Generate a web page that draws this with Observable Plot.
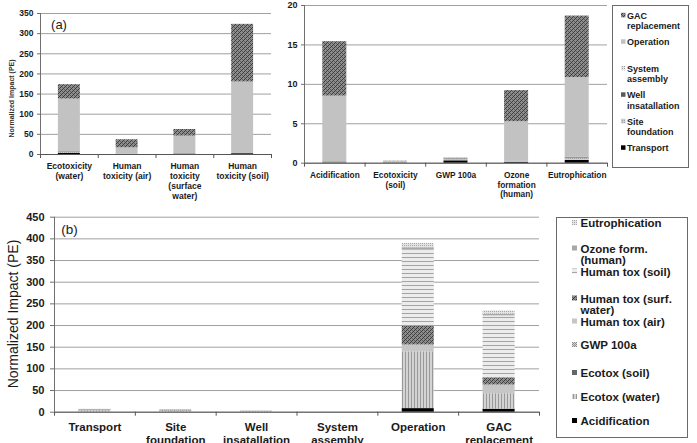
<!DOCTYPE html>
<html>
<head>
<meta charset="utf-8">
<script src="https://cdn.jsdelivr.net/npm/d3@7"></script>
<script src="https://cdn.jsdelivr.net/npm/@observablehq/plot@0.6"></script>
<style>
  html, body { margin: 0; padding: 0; background: #fff; }
  #figure { position: relative; width: 697px; height: 443px; overflow: hidden; background: #fff; }
  #figure > svg { position: absolute; margin: 0; }
</style>
</head>
<body>
<svg width="0" height="0" style="position:absolute">
  <defs>
    <pattern id="pGac" width="4" height="4" patternUnits="userSpaceOnUse">
      <rect width="4" height="4" fill="#8e8e8e"/>
      <path d="M0 3h1v1H0zM1 2h1v1H1zM2 1h1v1H2zM3 0h1v1H3z" fill="#3a3a3a"/>
      <path d="M0 1h1v1H0zM2 3h1v1H2z" fill="#5e5e5e"/>
    </pattern>
    <pattern id="pVert" width="3" height="3" patternUnits="userSpaceOnUse">
      <rect width="3" height="3" fill="#d3d3d3"/>
      <rect width="1" height="3" fill="#999"/>
    </pattern>
    <pattern id="pHoriz" width="4" height="4" patternUnits="userSpaceOnUse">
      <rect width="4" height="4" fill="#ececec"/>
      <rect width="4" height="1" fill="#a4a4a4"/>
    </pattern>
    <pattern id="pDots" width="2" height="2" patternUnits="userSpaceOnUse">
      <rect width="2" height="2" fill="#e4e4e4"/>
      <rect width="1" height="1" fill="#a6a6a6"/>
    </pattern>
    <pattern id="pGwp" width="2" height="2" patternUnits="userSpaceOnUse">
      <rect width="2" height="2" fill="#d6d6d6"/>
      <path d="M0 0h1v1H0zM1 1h1v1H1z" fill="#8c8c8c"/>
    </pattern>
    <pattern id="pSys" width="2" height="2" patternUnits="userSpaceOnUse">
      <rect width="2" height="2" fill="#eaeaea"/>
      <rect width="1" height="1" fill="#9a9a9a"/>
    </pattern>
    <pattern id="pSite" width="2" height="2" patternUnits="userSpaceOnUse">
      <rect width="2" height="2" fill="#cdcdcd"/>
      <rect width="1" height="1" fill="#a2a2a2"/>
    </pattern>
  </defs>
</svg>
<div id="figure"></div>
<script>
const font = '"Liberation Sans", Arial, Helvetica, sans-serif';

// Life-cycle stages and impact categories
const stages = ["Transport", "Site foundation", "Well installation", "System assembly", "Operation", "GAC replacement"];
const impacts = ["Acidification", "Ecotox (water)", "Ecotox (soil)", "GWP 100a", "Human tox (air)",
  "Human tox (surf. water)", "Human tox (soil)", "Ozone form. (human)", "Eutrophication"];

// Normalized impact (PE) of each stage, one value per impact category (same order as `impacts`)
const transport        = [0.05, 3.0, 0.02, 0.30, 0.30, 0.80, 2.0, 0.10, 0.35];
const siteFoundation   = [0.10, 2.0, 0.05, 0.15, 0.40, 1.00, 1.5, 0.10, 0.30];
const wellInstallation = [0.05, 1.5, 0.05, 0.10, 0.20, 0.50, 0.5, 0.05, 0.10];
const systemAssembly   = [0.01, 0.05, 0.01, 0.01, 0.02, 0.03, 0.05, 0.01, 0.01];
const operation        = [8.3, 131, 0.08, 0.06, 15.7, 43.3, 176, 5.0, 10.1];
const gacReplacement   = [6.9, 35.8, 0.04, 0.03, 20.0, 16.4, 143, 3.95, 7.8];
const stageValues = [transport, siteFoundation, wellInstallation, systemAssembly, operation, gacReplacement];

// Panel (a): toxicity categories (left) and the remaining categories (right)
const toxImpacts = ["Ecotox (water)", "Human tox (air)", "Human tox (surf. water)", "Human tox (soil)"];
const toxLabels = ["Ecotoxicity\n(water)", "Human\ntoxicity (air)", "Human\ntoxicity\n(surface\nwater)", "Human\ntoxicity (soil)"];
const otherImpacts = ["Acidification", "Ecotox (soil)", "GWP 100a", "Ozone form. (human)", "Eutrophication"];
const otherLabels = ["Acidification", "Ecotoxicity\n(soil)", "GWP 100a", "Ozone\nformation\n(human)", "Eutrophication"];
// Panel (b): one bar per stage
const stageLabels = ["Transport", "Site\nfoundation", "Well\ninsatallation", "System\nassembly", "Operation", "GAC\nreplacement"];

// Tick values
const ticksToxic = [0, 50, 100, 150, 200, 250, 300, 350];
const ticksOther = [0, 5, 10, 15, 20];
const ticksStage = [0, 50, 100, 150, 200, 250, 300, 350, 400, 450];

// Legend labels
const stageLegend = ["Transport", "Site\nfoundation", "Well\ninsatallation", "System\nassembly", "Operation", "GAC\nreplacement"];
const impactLegend = ["Acidification", "Ecotox (water)", "Ecotox (soil)", "GWP 100a", "Human tox (air)",
  "Human tox (surf.\nwater)", "Human tox (soil)", "Ozone form.\n(human)", "Eutrophication"];

// Fills (solid greys and hatch patterns defined above)
const stageFills = ["#000", "url(#pSite)", "#5a5a5a", "url(#pSys)", "#c2c2c2", "url(#pGac)"];
const impactFills = ["#000", "url(#pVert)", "#666", "url(#pGwp)", "#c6c6c6", "url(#pGac)", "url(#pHoriz)", "#a8a8a8", "url(#pDots)"];

function rowsByImpact(list) {
  return list.flatMap((imp, i) => stages.map((s, j) => ({pos: i, group: s, value: stageValues[j][impacts.indexOf(imp)]})));
}
function rowsByStage() {
  return stages.flatMap((s, i) => impacts.map((imp, k) => ({pos: i, group: imp, value: stageValues[i][k]})));
}

function stackedPanel(o) {
  const n = o.labels.length;
  return Plot.plot({
    width: o.width, height: o.height,
    marginTop: o.mt, marginRight: o.mr, marginBottom: o.mb, marginLeft: o.ml,
    x: {domain: [0, n], axis: null},
    y: {domain: [0, o.ymax], axis: null, label: null},
    color: {domain: o.groups, range: o.fills},
    style: {fontFamily: font, background: "transparent", overflow: "visible", color: "#1a1a1a"},
    marks: [
      Plot.gridY(o.ticks, {stroke: "#a0a0a0", strokeOpacity: 1, strokeWidth: 1}),
      Plot.rectY(o.rows, {x1: "pos", x2: d => d.pos + 1, y: "value", fill: "group", insetLeft: o.inset, insetRight: o.inset}),
      Plot.ruleX([0], {stroke: "#707070"}),
      Plot.ruleY([0], {stroke: "#555"}),
      Plot.axisY(o.ticks, {tickSize: o.tickSize, tickPadding: o.tickPadding, fontSize: o.tickFont, fontWeight: "bold", stroke: "#707070", label: null}),
      Plot.axisX(d3.range(n + 1), {tickSize: 4, tickFormat: () => "", stroke: "#555", label: null}),
      Plot.text(o.labels, {x: (d, i) => i + 0.5, frameAnchor: "bottom", lineAnchor: "top", dy: o.labelDy,
        lineHeight: o.lineHeight, fontSize: o.labelFont, fontWeight: "bold", fill: "#1a1a1a", textAnchor: "middle"})
    ]
  });
}

const fig = document.getElementById("figure");

const toxPanel = stackedPanel({
  rows: rowsByImpact(toxImpacts), labels: toxLabels, groups: stages, fills: stageFills,
  ymax: 350, ticks: ticksToxic, width: 272, height: 205, mt: 13, mr: 1, mb: 51, ml: 40,
  inset: 17.9, tickSize: 3, tickPadding: 4, tickFont: 8.5, labelDy: 8, lineHeight: 1.15, labelFont: 8.5
});
toxPanel.style.left = "0px"; toxPanel.style.top = "0px";
fig.appendChild(toxPanel);

const otherPanel = stackedPanel({
  rows: rowsByImpact(otherImpacts), labels: otherLabels, groups: stages, fills: stageFills,
  ymax: 20, ticks: ticksOther, width: 340, height: 205, mt: 5, mr: 3, mb: 42.3, ml: 34,
  inset: 18.3, tickSize: 3, tickPadding: 4, tickFont: 9, labelDy: 7.3, lineHeight: 1.2, labelFont: 8.3
});
otherPanel.style.left = "270px"; otherPanel.style.top = "0px";
fig.appendChild(otherPanel);

const stagePanel = stackedPanel({
  rows: rowsByStage(), labels: stageLabels, groups: impacts, fills: impactFills,
  ymax: 450, ticks: ticksStage, width: 545, height: 238, mt: 11.7, mr: 6, mb: 31.3, ml: 54,
  inset: 24.4, tickSize: 4, tickPadding: 6, tickFont: 11, labelDy: 10, lineHeight: 1.13, labelFont: 11.5
});
stagePanel.style.left = "0px"; stagePanel.style.top = "205px";
fig.appendChild(stagePanel);

// Overlay: panel tags, axis titles and legends
const ov = d3.create("svg").attr("width", 697).attr("height", 443)
  .style("left", "0px").style("top", "0px").style("font-family", font).style("pointer-events", "none");

ov.append("text").attr("x", 59).attr("y", 28.5).attr("text-anchor", "middle")
  .attr("font-size", 13).attr("fill", "#1a1a1a").text("(a)");
ov.append("text").attr("x", 69.5).attr("y", 234).attr("text-anchor", "middle")
  .attr("font-size", 13.5).attr("fill", "#1a1a1a").text("(b)");

ov.append("text").attr("transform", "translate(14,98.5) rotate(-90)").attr("text-anchor", "middle")
  .attr("font-size", 7).attr("font-weight", "bold").attr("fill", "#333").text("Normalized Impact (PE)");
ov.append("text").attr("transform", "translate(17.5,314) rotate(-90)").attr("text-anchor", "middle")
  .attr("font-size", 14).attr("fill", "#1a1a1a").text("Normalized Impact (PE)");

function legend(box, entries, o) {
  ov.append("rect").attr("x", box[0] + 0.5).attr("y", box[1] + 0.5).attr("width", box[2]).attr("height", box[3])
    .attr("fill", "#fff").attr("stroke", "#6a6a6a");
  for (const e of entries) {
    ov.append("rect").attr("x", o.swX).attr("y", e.y - o.swOff).attr("width", o.sw).attr("height", o.sw).attr("fill", e.fill);
    const t = ov.append("text").attr("x", o.textX).attr("y", e.y).attr("font-size", o.size)
      .attr("font-weight", "bold").attr("fill", "#1a1a1a");
    e.label.split("\n").forEach((line, k) => {
      t.append("tspan").attr("x", o.textX).attr("dy", k === 0 ? 0 : o.lh).text(line);
    });
  }
}

// Stage legend, listed top to bottom from the last stage
const stageBaselines = [151, 124.5, 98, 71.5, 45, 18.5];
legend([612, 5, 76, 162],
  stages.map((s, i) => ({label: stageLegend[i], fill: stageFills[i], y: stageBaselines[i]})),
  {swX: 621, sw: 4.5, swOff: 5.7, textX: 627, size: 9, lh: 10.5});

const impactBaselines = [425, 401, 377, 349, 325.5, 302.5, 275.5, 252.5, 227];
legend([556, 217, 131, 220],
  impacts.map((s, i) => ({label: impactLegend[i], fill: impactFills[i], y: impactBaselines[i]})),
  {swX: 572, sw: 5, swOff: 7, textX: 580.5, size: 11.5, lh: 11.5});

fig.appendChild(ov.node());
</script>
</body>
</html>
